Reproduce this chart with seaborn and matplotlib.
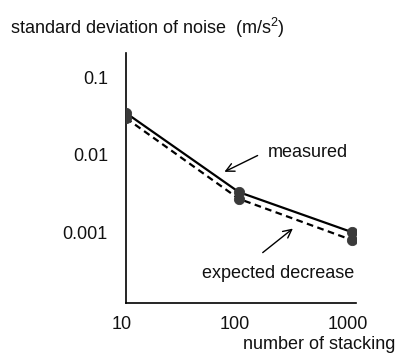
import matplotlib
matplotlib.use("Agg")
import matplotlib.pyplot as plt
import matplotlib.transforms as mtransforms
import seaborn as sns
import pandas as pd

stacking = [10, 100, 1000]
measured = [0.035, 0.0033, 0.0010]
expected = [0.030, 0.0027, 0.00079]
xtick_vals = [10, 100, 1000]
xtick_labels = ["10", "100", "1000"]
ytick_vals = [0.1, 0.01, 0.001]
ytick_labels = ["0.1", "0.01", "0.001"]

sns.set_style("white")
plt.rcParams['font.family'] = ['Liberation Sans', 'DejaVu Sans']
plt.rcParams['mathtext.fontset'] = 'custom'
plt.rcParams['mathtext.rm'] = 'Liberation Sans'
plt.rcParams['mathtext.it'] = 'Liberation Sans'

df = pd.DataFrame({
    "stacking": stacking * 2,
    "value": measured + expected,
    "series": ["measured"] * 3 + ["expected"] * 3,
})

fig = plt.figure(figsize=(4.0, 3.63), dpi=100)
ax = fig.add_axes([0.315, 0.165, 0.575, 0.689])

sns.lineplot(data=df, x="stacking", y="value", hue="series", style="series",
             palette={"measured": "black", "expected": "black"},
             dashes={"measured": "", "expected": (3, 2)},
             linewidth=1.6, legend=False, ax=ax, zorder=2)
for vals in (measured, expected):
    sns.scatterplot(x=stacking, y=vals, color="#3a3a3a", s=55, edgecolor="#3a3a3a",
                    ax=ax, zorder=3, legend=False)

ax.set_xscale("log")
ax.set_yscale("log")
ax.set_xlim(10, 1090)
ax.set_ylim(1.2e-4, 0.21)
ax.set_xticks(xtick_vals)
ax.set_xticklabels(xtick_labels)
ax.set_yticks(ytick_vals)
ax.set_yticklabels(ytick_labels)
ax.minorticks_off()
ax.tick_params(axis="both", length=0, labelsize=13, colors="#111111")
ax.tick_params(axis="y", pad=13)
ax.tick_params(axis="x", pad=9)
shift = mtransforms.ScaledTranslation(-4 / 100, 0, fig.dpi_scale_trans)
for lab in ax.get_xticklabels():
    lab.set_transform(lab.get_transform() + shift)
ax.set_xlabel("")
ax.set_ylabel("")
for s in ("top", "right"):
    ax.spines[s].set_visible(False)
for s in ("left", "bottom"):
    ax.spines[s].set_color("black")
    ax.spines[s].set_linewidth(1.2)

arrow = dict(arrowstyle="->,head_length=0.6,head_width=0.3", color="black", lw=1.0)
ax.annotate("", xy=(0.417, 0.52), xytext=(0.583, 0.595),
            xycoords="axes fraction", textcoords="axes fraction", arrowprops=arrow)
ax.text(0.617, 0.604, "measured", transform=ax.transAxes, ha="left", va="center",
        fontsize=13, color="#111111")
ax.annotate("", xy=(0.735, 0.305), xytext=(0.585, 0.195),
            xycoords="axes fraction", textcoords="axes fraction", arrowprops=arrow)
ax.text(0.661, 0.12, "expected decrease", transform=ax.transAxes, ha="center", va="center",
        fontsize=13, color="#111111")

fig.text(0.025, 0.923, r"standard deviation of noise  (m/s$^{2}$)", ha="left", va="center",
         fontsize=13, color="#111111")
fig.text(0.9875, 0.05, "number of stacking", ha="right", va="center",
         fontsize=13, color="#111111")

fig.savefig("out.png", dpi=100)
